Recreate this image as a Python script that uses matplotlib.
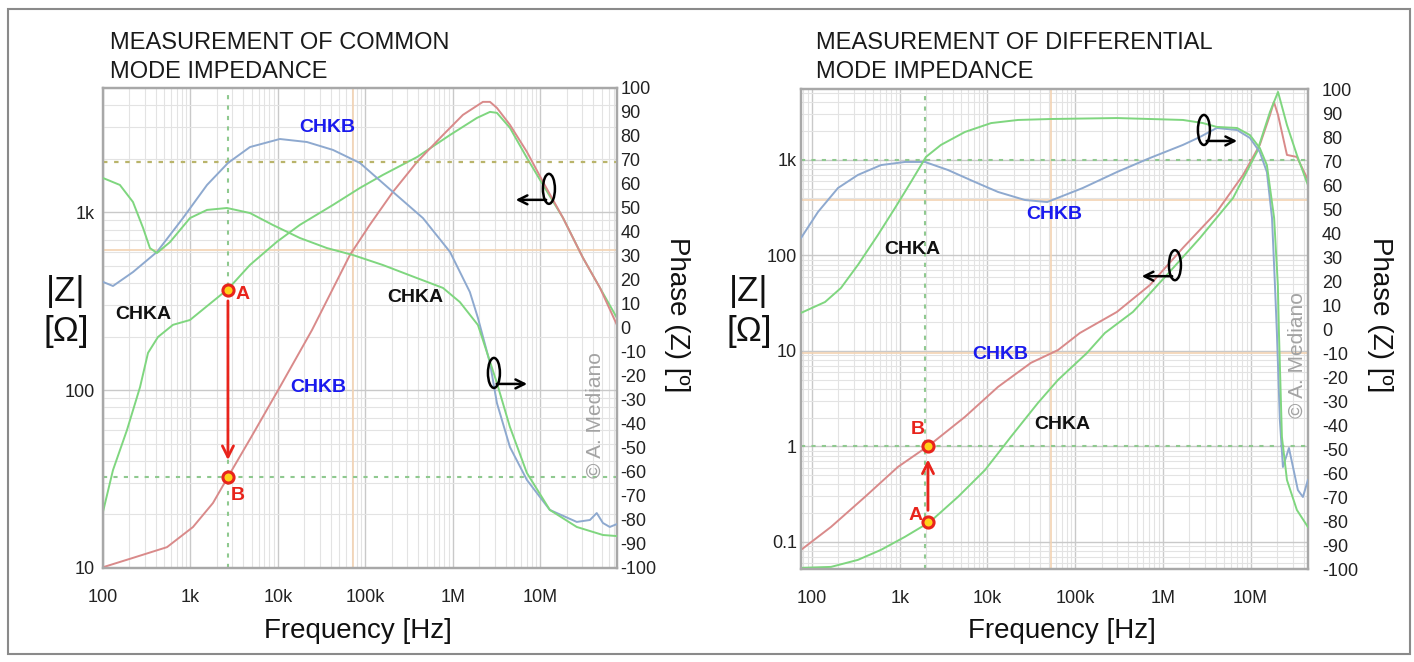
import matplotlib
matplotlib.use("Agg")
import matplotlib.pyplot as plt
from matplotlib.patches import Ellipse, FancyArrowPatch, Rectangle
from matplotlib.transforms import IdentityTransform
from matplotlib.ticker import FixedLocator, LogLocator, NullFormatter

plt.rcParams['font.family'] = ['Liberation Sans', 'DejaVu Sans']

# ---------------- data: common mode (left) ----------------
cm_chka_z_f = [100, 130, 188, 265, 327, 425, 631, 986, 2680, 4786, 9700, 17800, 42500, 86500,
               158e3, 388e3, 925e3, 1.88e6, 2.65e6, 3.18e6, 4.48e6, 7.0e6, 10.7e6, 18.1e6,
               30.6e6, 47.9e6, 74.8e6]
cm_chka_z = [20.7, 35.5, 59.7, 104, 162, 199, 233, 248, 370, 506, 682, 850, 1100, 1371,
             1622, 2044, 2721, 3394, 3670, 3625, 2985, 2024, 1426, 931, 555, 376, 255]

cm_chkb_z_f = [100, 220, 539, 1068, 1807, 2680, 5000, 10500, 24500, 66500, 112e3, 206e3,
               388e3, 769e3, 1.3e6, 2.2e6, 2.65e6, 3.18e6, 4.48e6, 7.0e6, 10.7e6, 18.1e6,
               30.6e6, 47.9e6, 74.8e6]
cm_chkb_z = [10.1, 11.4, 13.1, 17, 23.2, 32.5, 55, 104, 218, 576, 850, 1303, 1919, 2721,
             3530, 4178, 4178, 3865, 3104, 2188, 1483, 931, 555, 376, 233]

cm_chkb_ph_f = [100, 130, 220, 414, 820, 1545, 2680, 4786, 10500, 21400, 42500, 86500, 206e3,
                454e3, 925e3, 1.56e6, 1.93e6, 2.65e6, 3.18e6, 4.48e6, 7.0e6, 12.8e6, 26e6,
                36.8e6, 44e6, 51.8e6, 62e6, 74.8e6]
cm_chkb_ph = [19.2, 17.5, 23.3, 31.7, 45.8, 59.6, 68.75, 75.4, 78.75, 77.5, 74.2, 68.75, 56.7,
              45.8, 31.7, 15, 4.2, -14.6, -31.25, -49.6, -63.3, -75.8, -80.8, -80, -77.1,
              -81.25, -82.9, -81.7]

cm_chka_ph_f = [100, 156, 220, 287, 344, 414, 583, 986, 1545, 2613, 4786, 8770, 17800, 36300,
                72000, 158e3, 388e3, 769e3, 1.2e6, 1.93e6, 2.2e6, 3.18e6, 4.48e6, 7.0e6,
                12.8e6, 26e6, 51.8e6, 74.8e6]
cm_chka_ph = [62.5, 59.6, 52.5, 41.7, 33.3, 31.25, 35.8, 45.8, 49.2, 50, 47.9, 42.9, 37.5,
              33.3, 30.4, 26.25, 20.8, 16.7, 10.8, 1.25, -5, -22.9, -41.25, -60.4, -75.8,
              -82.9, -86.25, -86.7]

cm_marker_f = 2680
cm_a_z = 366
cm_b_z = 32.5
cm_phase_ref = 69

# ---------------- data: differential mode (right) ----------------
dm_chkb_z_f = [75, 165, 402, 955, 2213, 5546, 13200, 31300, 63600, 113e3, 299e3, 711e3,
               1.69e6, 4.1e6, 8.2e6, 12.7e6, 16.6e6, 18.4e6, 20.5e6, 25.9e6, 33.6e6, 43.8e6]
dm_chkb_z = [0.0824, 0.1436, 0.296, 0.61, 1.04, 2.04, 4.2, 7.5, 10.2, 15.4, 25.6, 49, 120,
             285, 697, 1436, 2958, 4048, 2958, 1128, 1075, 649]

dm_chka_z_f = [75, 165, 334, 612, 1148, 2213, 4613, 9400, 18500, 37600, 63600, 136e3, 218e3,
               455e3, 1.11e6, 2.64e6, 6.3e6, 11.8e6, 16.6e6, 20.5e6, 25.9e6, 33.6e6, 44.9e6]
dm_chka_z = [0.0535, 0.0547, 0.0648, 0.0825, 0.113, 0.162, 0.296, 0.567, 1.26, 2.85, 4.96,
             9.5, 15.4, 25.6, 62.5, 152, 400, 1213, 3186, 5152, 2322, 1128, 547]

dm_chkb_ph_f = [75, 117, 198, 334, 612, 1148, 1940, 3548, 7200, 13200, 26700, 48000, 122e3,
                299e3, 711e3, 1.69e6, 2.64e6, 4.1e6, 7.0e6, 9.8e6, 12.7e6, 15.3e6, 17.5e6,
                18.9e6, 19.9e6, 21.5e6, 23.3e6, 27.3e6, 34.5e6, 39.4e6, 44.9e6]
dm_chkb_ph = [37.9, 48.75, 58.75, 64.2, 68.3, 69.6, 69.6, 66.25, 61.25, 57.1, 53.75, 52.9,
              58.75, 65.4, 71.25, 76.7, 80, 83.75, 82.9, 79.6, 73.75, 65.4, 46.25, 18.3, -1.7,
              -37.9, -57.5, -49.6, -67.1, -70, -62.9]

dm_chka_ph_f = [75, 141, 214, 334, 565, 883, 1343, 1991, 2951, 5546, 11000, 22300, 53000,
                299e3, 1.69e6, 2.86e6, 4.1e6, 7.0e6, 9.8e6, 12.7e6, 15.3e6, 18.5e6, 20.4e6,
                21.0e6, 22.7e6, 25.9e6, 33.6e6, 44.9e6]
dm_chka_ph = [6.7, 11.25, 17.1, 26.7, 39.2, 50.4, 61.25, 71.7, 76.7, 82.1, 85.8, 87.1, 87.5,
              87.9, 87.1, 85.8, 84.2, 83.75, 80.8, 75.4, 68.3, 46.25, 18.3, -1.7, -45, -62.9,
              -75.4, -82.5]

dm_marker_f = 2100
dm_a_z = 0.16
dm_b_z = 1.0

x_ticks = [100, 1e3, 1e4, 1e5, 1e6, 1e7]
x_ticklabels = ['100', '1k', '10k', '100k', '1M', '10M']
phase_ticks = list(range(-100, 101, 10))

GREEN = '#7fd67f'
BLUE = '#8ea9cf'
RED = '#d98a8a'
MRED = '#e8241c'
DOT_GREEN = '#8fc98f'
OLIVE = '#b9b46a'
ORANGE = '#f3d3b3'

W, H = 1414, 662
fig = plt.figure(figsize=(W / 100, H / 100), dpi=100)


def add_ax(x0, y0, x1, y1):
    return fig.add_axes([x0 / W, 1 - y1 / H, (x1 - x0) / W, (y1 - y0) / H])


def ftext(x, y, s, **kw):
    fig.text(x / W, 1 - y / H, s, **kw)


def style(ax, ax2, xlim, ylim, yticks, yticklabels, ypad, ppad):
    ax.set_xscale('log')
    ax.set_yscale('log')
    ax.set_xlim(*xlim)
    ax.set_ylim(*ylim)
    ax.xaxis.set_major_locator(FixedLocator(x_ticks))
    ax.set_xticklabels(x_ticklabels)
    ax.xaxis.set_minor_locator(LogLocator(base=10, subs=range(2, 10), numticks=20))
    ax.xaxis.set_minor_formatter(NullFormatter())
    ax.yaxis.set_major_locator(FixedLocator(yticks))
    ax.set_yticklabels(yticklabels)
    ax.yaxis.set_minor_locator(LogLocator(base=10, subs=range(2, 10), numticks=20))
    ax.yaxis.set_minor_formatter(NullFormatter())
    ax.grid(which='major', color='#c9c9c9', lw=1.0)
    ax.grid(which='minor', color='#e3e3e3', lw=0.8)
    ax.set_axisbelow(True)
    ax.tick_params(axis='both', which='both', length=0, labelsize=13, colors='#222222')
    ax.tick_params(axis='x', pad=15)
    ax.tick_params(axis='y', pad=ypad)
    ax2.set_ylim(-100, 100)
    ax2.set_yticks(phase_ticks)
    ax2.set_yticklabels([str(t) for t in phase_ticks])
    ax2.tick_params(axis='y', length=0, labelsize=13, colors='#222222', pad=ppad)
    for a in (ax, ax2):
        for sp in a.spines.values():
            sp.set_color('#a8a8a8')
            sp.set_linewidth(1.6)


def loop(ax, f, z, direction):
    x, y = ax.transData.transform((f, z))
    fig.add_artist(Ellipse((x, y), 12, 30, fill=False, ec='black', lw=1.8,
                           transform=IdentityTransform()))
    fig.add_artist(FancyArrowPatch((x, y - 11), (x + direction * 36, y - 11),
                                   arrowstyle='->', mutation_scale=16, lw=1.8, color='black',
                                   transform=IdentityTransform()))


def markers(ax, f, za, zb):
    ax.plot([f, f], [za, zb], 'o', ms=8, mfc='#ffd21a', mec=MRED, mew=2.2, zorder=6)


LBL = dict(fontsize=14, fontweight='bold', ha='center', va='center')

# ================= LEFT: common mode =================
axL = add_ax(103, 88, 617, 568)
axL2 = axL.twinx()
style(axL, axL2, (100, 7.5e7), (10, 5000), [10, 100, 1000], ['10', '100', '1k'], 6, 2.5)

axL.axhline(615, color=ORANGE, lw=1.2, zorder=1)
axL.axvline(72000, color=ORANGE, lw=1.2, zorder=1)

axL.plot(cm_chka_z_f, cm_chka_z, color=GREEN, lw=1.4, zorder=3)
axL.plot(cm_chkb_z_f, cm_chkb_z, color=RED, lw=1.4, zorder=3)
axL2.plot(cm_chkb_ph_f, cm_chkb_ph, color=BLUE, lw=1.4, zorder=3)
axL2.plot(cm_chka_ph_f, cm_chka_ph, color=GREEN, lw=1.4, zorder=3)

axL.axvline(cm_marker_f, color=DOT_GREEN, lw=1.5, ls=(0, (2, 3)), zorder=2)
axL.axhline(cm_b_z, color=DOT_GREEN, lw=1.5, ls=(0, (2, 3)), zorder=2)
axL2.axhline(cm_phase_ref, color=OLIVE, lw=1.6, ls=(0, (2, 3)), zorder=2)

axL.annotate('', xy=(cm_marker_f, cm_b_z * 1.2), xytext=(cm_marker_f, cm_a_z * 0.9),
             arrowprops=dict(arrowstyle='->', color=MRED, lw=2.0, mutation_scale=20), zorder=5)
markers(axL, cm_marker_f, cm_a_z, cm_b_z)

axL.text(36300, 3000, 'CHKB', color='#1a1aee', **LBL)
axL.text(28600, 103, 'CHKB', color='#1a1aee', **LBL)
axL.text(287, 265, 'CHKA', color='#111111', **LBL)
axL.text(368e3, 330, 'CHKA', color='#111111', **LBL)
axL.text(3950, 345, 'A', color=MRED, **LBL)
axL.text(3500, 25.5, 'B', color=MRED, **LBL)

ftext(595, 415, '© A. Mediano', color='#a3a3a3', fontsize=15, rotation=90, ha='center', va='center')

# ================= RIGHT: differential mode =================
axR = add_ax(801, 89, 1308, 569)
axR2 = axR.twinx()
style(axR, axR2, (75, 4.5e7), (0.052, 5530), [0.1, 1, 10, 100, 1000],
      ['0.1', '1', '10', '100', '1k'], 3, 10)

axR.axhline(381, color=ORANGE, lw=1.2, zorder=1)
axR.axhline(9.5, color=ORANGE, lw=1.2, zorder=1)
axR.axvline(53000, color=ORANGE, lw=1.2, zorder=1)

axR.plot(dm_chkb_z_f, dm_chkb_z, color=RED, lw=1.4, zorder=3)
axR.plot(dm_chka_z_f, dm_chka_z, color=GREEN, lw=1.4, zorder=3)
axR2.plot(dm_chkb_ph_f, dm_chkb_ph, color=BLUE, lw=1.4, zorder=3)
axR2.plot(dm_chka_ph_f, dm_chka_ph, color=GREEN, lw=1.4, zorder=3)

axR.axvline(dm_marker_f * 0.93, color=DOT_GREEN, lw=1.5, ls=(0, (2, 3)), zorder=2)
axR.axhline(dm_b_z, color=DOT_GREEN, lw=1.5, ls=(0, (2, 3)), zorder=2)
axR.axhline(1000, color=DOT_GREEN, lw=1.5, ls=(0, (2, 3)), zorder=2)

axR.annotate('', xy=(dm_marker_f, dm_b_z * 0.78), xytext=(dm_marker_f, dm_a_z * 1.25),
             arrowprops=dict(arrowstyle='->', color=MRED, lw=2.0, mutation_scale=20), zorder=5)
markers(axR, dm_marker_f, dm_a_z, dm_b_z)

axR.text(1380, 114, 'CHKA', color='#111111', **LBL)
axR.text(57300, 265, 'CHKB', color='#1a1aee', **LBL)
axR.text(13900, 9.1, 'CHKB', color='#1a1aee', **LBL)
axR.text(70600, 1.68, 'CHKA', color='#111111', **LBL)
axR.text(1620, 1.5, 'B', color=MRED, **LBL)
axR.text(1500, 0.19, 'A', color=MRED, **LBL)

ftext(1297, 355, '© A. Mediano', color='#a3a3a3', fontsize=15, rotation=90, ha='center', va='center')

# ---------------- loops with arrows ----------------
loop(axL, 12.5e6, 1355, -1)
loop(axL, 2.94e6, 125, 1)
loop(axR, 2.93e6, 2060, 1)
loop(axR, 1.37e6, 79, -1)

# ---------------- titles and axis labels ----------------
for x0, word in ((110, 'COMMON'), (816, 'DIFFERENTIAL')):
    ftext(x0, 43, 'MEASUREMENT OF ' + word, fontsize=17, color='#1a1a1a', ha='left', va='center')
    ftext(x0, 72, 'MODE IMPEDANCE', fontsize=17, color='#1a1a1a', ha='left', va='center')

for xc, xl, xp in ((66, 358, 677), (749, 1062, 1380)):
    ftext(xc, 292, '|Z|', fontsize=25, color='#111111', ha='center', va='center')
    ftext(xc, 332, '[Ω]', fontsize=25, color='#111111', ha='center', va='center')
    ftext(xl, 631, 'Frequency [Hz]', fontsize=20, color='#111111', ha='center', va='center')
    ftext(xp, 315, 'Phase (Z) [º]', fontsize=20, color='#111111', ha='center', va='center',
          rotation=-90)

fig.add_artist(Rectangle((8 / W, 1 - 654 / H), 1402 / W, 645 / H, fill=False,
                         ec='#8a8a8a', lw=1.5, transform=fig.transFigure))

fig.savefig('out.png', dpi=100)
